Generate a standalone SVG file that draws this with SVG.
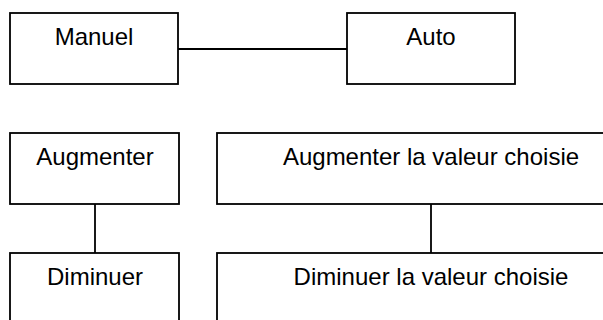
<svg xmlns="http://www.w3.org/2000/svg" width="603" height="320" viewBox="0 0 603 320">
  <style>
    .box { fill: #ffffff; stroke: #000000; stroke-width: 1.8; }
    .lbl { font-family: "Liberation Sans", Arial, sans-serif; font-size: 24px; fill: #000000; text-anchor: middle; }
    .conn { stroke: #000000; stroke-width: 1.8; fill: none; }
  </style>
  <rect width="603" height="320" fill="#ffffff"/>
  <g id="connectors">
    <line class="conn" x1="178" y1="49" x2="347" y2="49"/>
    <line class="conn" x1="95" y1="204" x2="95" y2="253"/>
    <line class="conn" x1="431" y1="204" x2="431" y2="253"/>
  </g>
  <g id="manuel">
    <rect class="box" x="10" y="13" width="168" height="71"/>
    <text class="lbl" x="94" y="45">Manuel</text>
  </g>
  <g id="auto">
    <rect class="box" x="347" y="13" width="168" height="71"/>
    <text class="lbl" x="431" y="45">Auto</text>
  </g>
  <g id="augmenter">
    <rect class="box" x="10" y="133" width="169" height="71"/>
    <text class="lbl" x="95" y="165">Augmenter</text>
  </g>
  <g id="diminuer">
    <rect class="box" x="10" y="253" width="169" height="71"/>
    <text class="lbl" x="95" y="285">Diminuer</text>
  </g>
  <g id="augmenter-valeur">
    <rect class="box" x="217" y="133" width="428" height="71"/>
    <text class="lbl" x="431" y="165">Augmenter la valeur choisie</text>
  </g>
  <g id="diminuer-valeur">
    <rect class="box" x="217" y="253" width="428" height="71"/>
    <text class="lbl" x="431" y="285">Diminuer la valeur choisie</text>
  </g>
</svg>
